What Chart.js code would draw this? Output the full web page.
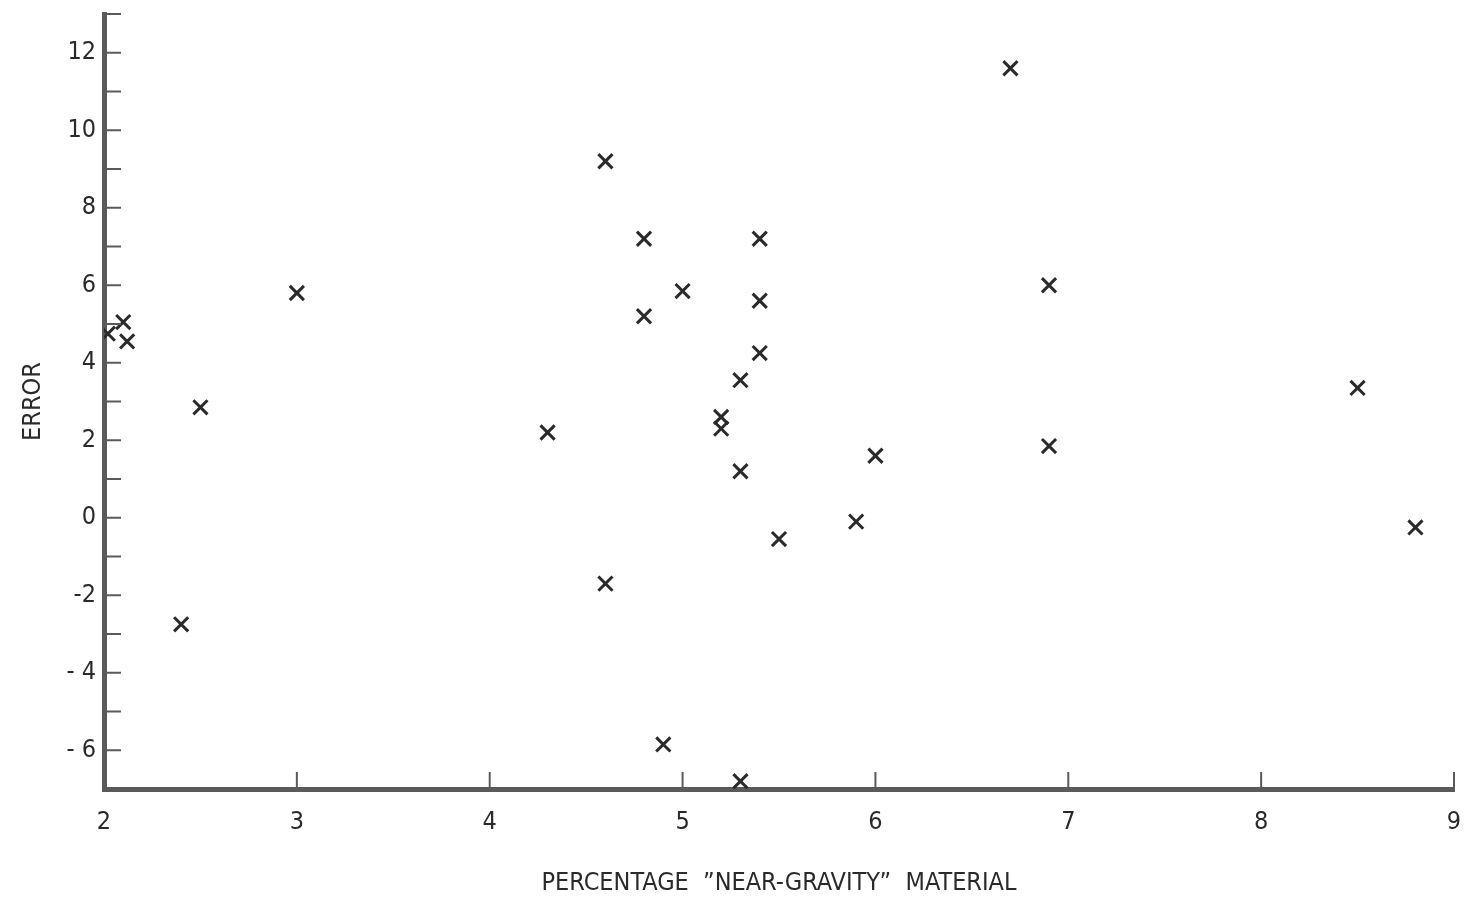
<!DOCTYPE html>
<html>
<head>
<meta charset="utf-8">
<script src="https://cdn.jsdelivr.net/npm/chart.js@4.4.1/dist/chart.umd.min.js"></script>
<style>
  html, body { margin: 0; padding: 0; background: #fff; }
  #wrap { width: 1467px; height: 900px; }
</style>
</head>
<body>
<div id="wrap"><canvas id="chart" width="1467" height="900"></canvas></div>
<script>
// near-gravity material (%) vs error
let xValues = [6.7, 4.6, 4.8, 5.4, 3.0, 5.0, 6.9, 5.4, 4.8, 2.1, 2.12, 2.02, 5.4, 5.3, 8.5,
               2.5, 4.3, 5.2, 5.2, 6.9, 6.0, 5.3, 5.9, 8.8, 5.5, 4.6, 2.4, 4.9, 5.3]
let yValues = [11.6, 9.2, 7.2, 7.2, 5.8, 5.85, 6.0, 5.6, 5.2, 5.05, 4.55, 4.75, 4.25, 3.55, 3.35,
               2.85, 2.2, 2.6, 2.3, 1.85, 1.6, 1.2, -0.1, -0.25, -0.55, -1.7, -2.75, -5.85, -6.8]

let yLabels = {12: '12', 10: '10', 8: '8', 6: '6', 4: '4', 2: '2', 0: '0', '-2': '-2', '-4': '- 4', '-6': '- 6'}
let xLabels = ['2', '3', '4', '5', '6', '7', '8', '9']

let points = xValues.map((x, i) => ({x: x, y: yValues[i]}))

const ink = '#2a2a2a'
const axisGrey = '#5a5a5a'
const font = {family: 'DejaVu Sans Condensed', size: 25}

// small tick marks pointing into the plot
const innerTicks = {
  id: 'innerTicks',
  afterDatasetsDraw(chart) {
    const {ctx, scales: {x, y}, chartArea} = chart
    ctx.save()
    ctx.strokeStyle = axisGrey
    ctx.lineWidth = 2
    for (let v = -7; v <= 13; v++) {
      let py = y.getPixelForValue(v)
      ctx.beginPath()
      ctx.moveTo(chartArea.left, py)
      ctx.lineTo(chartArea.left + 17, py)
      ctx.stroke()
    }
    for (let v = 3; v <= 9; v++) {
      let px = x.getPixelForValue(v)
      ctx.beginPath()
      ctx.moveTo(px, chartArea.bottom)
      ctx.lineTo(px, chartArea.bottom - 17)
      ctx.stroke()
    }
    ctx.restore()
  }
}

let chart = new Chart(document.getElementById('chart'), {
  type: 'scatter',
  data: {
    datasets: [{
      label: 'Error',
      data: points,
      pointStyle: 'crossRot',
      pointRadius: 10,
      pointHoverRadius: 10,
      borderColor: ink,
      backgroundColor: ink,
      borderWidth: 3
    }]
  },
  options: {
    responsive: false,
    animation: false,
    layout: {padding: {left: 18, right: 12, top: 14, bottom: 0}},
    plugins: {legend: {display: false}, tooltip: {enabled: false}},
    scales: {
      x: {
        type: 'linear', min: 2, max: 9,
        border: {color: axisGrey, width: 5},
        grid: {display: false, drawTicks: false},
        ticks: {stepSize: 1, color: ink, font: font, padding: 18,
                callback: (v) => xLabels[v - 2] ?? ''},
        title: {display: true, text: 'PERCENTAGE  \u201DNEAR-GRAVITY\u201D  MATERIAL',
                color: ink, font: font, padding: {top: 30, bottom: 2}},
        afterFit: (s) => { s.height = 111; s.paddingLeft = 0; s.paddingRight = 0 }
      },
      y: {
        type: 'linear', min: -7, max: 13,
        border: {color: axisGrey, width: 5},
        grid: {display: false, drawTicks: false},
        ticks: {stepSize: 1, color: ink, font: font, padding: 8, autoSkip: false,
                callback: (v) => yLabels[v] ?? ''},
        title: {display: true, text: 'ERROR', color: ink, font: font, padding: {top: 0, bottom: 10}},
        afterFit: (s) => { s.width = 86; s.paddingTop = 0; s.paddingBottom = 0 }
      }
    }
  },
  plugins: [innerTicks]
})
</script>
</body>
</html>
